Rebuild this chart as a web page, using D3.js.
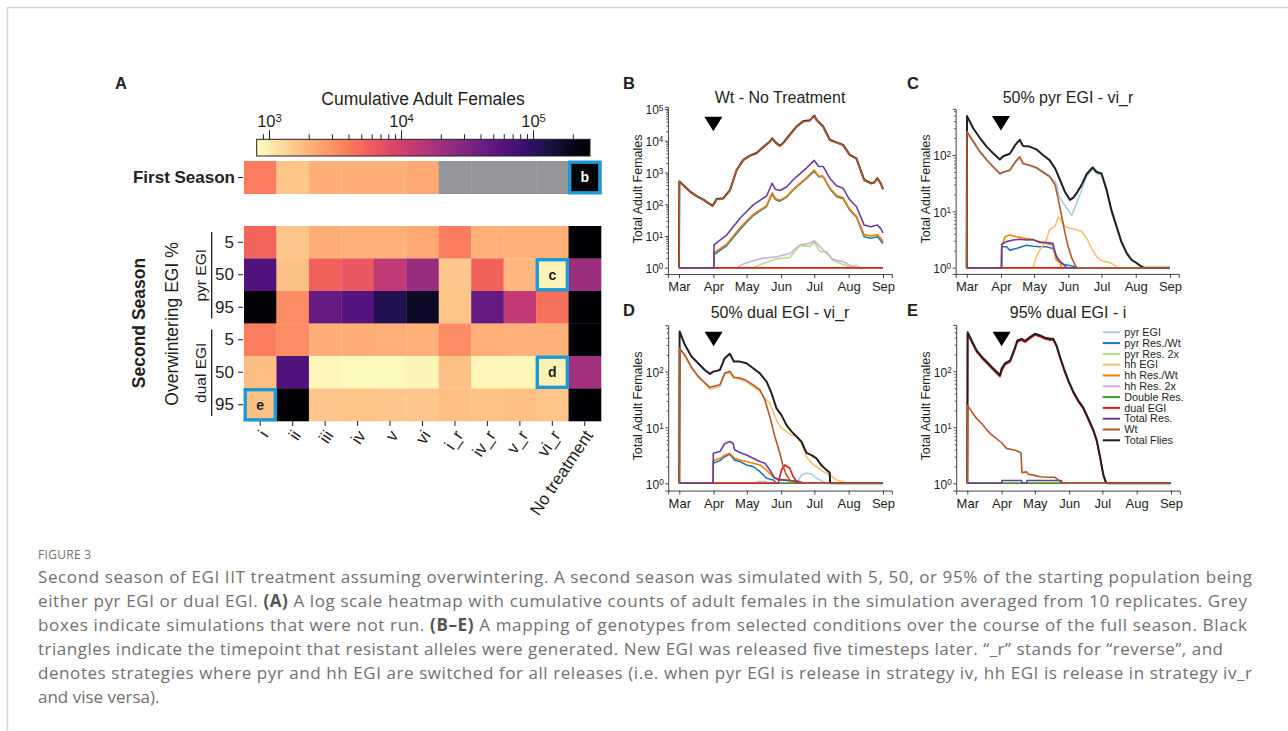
<!DOCTYPE html>
<html>
<head>
<meta charset="utf-8">
<script src="https://cdn.jsdelivr.net/npm/d3@7"></script>
<style>
  body { margin: 0; background: #fff; }
  svg { display: block; }
  text { font-family: "Liberation Sans", Arial, sans-serif; fill: #231f20; }
  .cap { font-family: "Open Sans", sans-serif; fill: #707070; }
</style>
</head>
<body>
<svg id="fig" width="1288" height="731"></svg>
<script>
// ---------- heatmap data (cumulative adult females, log scale) ----------
const strategies = ["i", "ii", "iii", "iv", "v", "vi", "i_r", "iv_r", "v_r", "vi_r", "No treatment"];
const rowLabels = ["5", "50", "95", "5", "50", "95"];
const rowGroups = ["pyr EGI", "dual EGI"];
// null = simulation not run (grey)
const firstSeason = [3900, 1650, 2150, 2150, 2150, 2300, null, null, null, null, 262000];
const secondSeason = [
  [5200, 1620, 2170, 2100, 2050, 2300, 3870, 2050, 2050, 2100, 262000],
  [63000, 1720, 5490, 6530, 13100, 22100, 1620, 5490, 1930, 906, 20900],
  [254000, 3260, 47100, 59400, 119000, 179000, 1650, 47100, 12400, 4610, 262000],
  [3870, 3260, 2170, 2170, 2100, 2050, 3260, 2100, 2050, 2050, 262000],
  [1820, 63000, 880, 855, 855, 906, 1720, 880, 880, 930, 19700],
  [1720, 262000, 1620, 1650, 1620, 1620, 1770, 1680, 1770, 1650, 262000]
];
// [row (-1 = first season), column, letter]
const boxedCells = [[-1, 10, "b"], [1, 9, "c"], [4, 9, "d"], [5, 0, "e"]];
const colorTicks = [1e3, 1e4, 1e5];
const colorMinor = [900, 2000, 3000, 4000, 5000, 6000, 7000, 8000, 9000,
  20000, 30000, 40000, 50000, 60000, 70000, 80000, 90000, 200000];

// ---------- time series: [day since Mar 1, adult females] ----------
const seriesNames = ["pyr EGI", "pyr Res./Wt", "pyr Res. 2x", "hh EGI", "hh Res./Wt", "hh Res. 2x",
  "Double Res.", "dual EGI", "Total Res.", "Wt", "Total Flies"];
const seriesColors = ["#a6cee3", "#1f78b4", "#b2df8a", "#fdbf6f", "#ff7f00", "#cab2d6",
  "#33a02c", "#e31a1c", "#6a3d9a", "#b15928", "#231f20"];
const drawOrder = ["pyr EGI", "pyr Res./Wt", "pyr Res. 2x", "hh EGI", "hh Res./Wt", "hh Res. 2x",
  "Double Res.", "dual EGI", "Total Flies", "Total Res.", "Wt"];
const monthTicks = ["Mar", "Apr", "May", "Jun", "Jul", "Aug", "Sep"];
const flatOne = [[0, 1], [184, 1]];

// B: Wt - No Treatment
const B_total = [[0,1],[0.3,520],[10,250],[16,180],[22,140],[28,100],[30.4,89],[34,145],[40,155],[46,280],[52,1200],[58,2500],[64,3400],[70,4100],[76,6300],[82,9500],[84,12000],[87,8900],[91,6900],[94,8500],[100,15500],[106,28000],[112,41000],[118,44000],[122,62000],[124,46000],[130,28000],[136,10700],[142,8900],[148,7400],[154,3600],[160,2800],[167,590],[173,460],[176,480],[179,660],[182,450],[184,300]];
const B_wt = [[0,1],[0.3,505],[10,243],[16,175],[22,136],[28,97],[30.4,86],[34,141],[40,150],[46,272],[52,1170],[58,2430],[64,3300],[70,3980],[76,6100],[82,9200],[84,11600],[87,8600],[91,6700],[94,8200],[100,15000],[106,27000],[112,39500],[118,42500],[122,60000],[124,44500],[130,27000],[136,10300],[142,8600],[148,7150],[154,3480],[160,2700],[167,570],[173,445],[176,465],[179,640],[182,435],[184,290]];
const B_totalRes = [[0,1],[31.5,1],[31.6,5.2],[37,7.4],[43,10.7],[49,19.5],[55,36],[61,59],[67,95],[73,132],[79,182],[84,457],[87,295],[91,270],[97,347],[103,590],[109,910],[115,1380],[122,2400],[126,1550],[130,1550],[136,660],[142,380],[148,316],[154,138],[160,85],[167,22],[173,19.5],[179,22],[182,17],[184,12.6]];
const B_hhRes = [[0,1],[31.5,1],[31.6,3.0],[37,4],[43,5.5],[49,10],[55,18],[61,30],[67,48],[73,66],[79,90],[84,230],[87,150],[91,135],[97,175],[103,295],[109,455],[115,690],[122,1200],[126,780],[130,770],[136,330],[142,190],[148,160],[154,70],[160,42],[167,11],[173,10],[179,11],[182,8.5],[184,6.5]];
const B_pyrRes = [[0,1],[31.5,1],[31.6,2.6],[37,3.5],[43,5],[49,9],[55,16],[61,27],[67,44],[73,62],[79,85],[84,210],[87,140],[91,125],[97,165],[103,280],[109,430],[115,650],[122,1100],[126,740],[130,740],[136,310],[142,175],[148,150],[154,65],[160,40],[167,9.5],[173,8.5],[179,9.5],[182,7],[184,5.8]];
const B_hhRes2 = [[0,1],[52,1],[58,1.3],[64,1.55],[76,2],[88,2.2],[100,2.8],[109,5.2],[118,5.9],[122,7.1],[130,3.6],[139,1.8],[148,1.55],[154,1.2],[160,1],[184,1]];
const B_pyrRes2 = [[0,1],[67,1],[76,1.35],[82,1.6],[88,1.9],[100,2.1],[109,5],[118,4.7],[122,6.5],[127,3.2],[133,3.2],[139,1.7],[148,1.25],[154,1.05],[160,1.2],[163,1],[184,1]];

// C: 50% pyr EGI - vi_r
const C_total = [[0,1],[0.3,490],[6,295],[12,200],[18,141],[24,107],[30,83],[33,95],[39,105],[44,151],[48,186],[51,145],[57,141],[63,126],[69,100],[75,81],[80,58],[84.5,36],[89,22],[93.5,16],[96.5,17.5],[99.5,21],[104,29.5],[108.6,46],[114,60],[117.6,50],[122,47],[126.7,24],[131,10.5],[135.7,5.4],[140,2.9],[145,1.8],[149,1.4],[154,1.2],[158,1.05],[160.5,1],[184,1]];
const C_wt = [[0,1],[0.3,260],[6,175],[12,115],[18,83],[24,62],[30,47],[33,50],[39,54],[44,76],[48,93],[51,71],[57,66],[63,60],[69,50],[75,42],[80,29.5],[83,16],[86,8.1],[89,4.1],[92,2.3],[95,1.5],[98,1.12],[100,1],[184,1]];
const C_pyrEgi = [[0,1],[0.3,245],[6,165],[12,110],[18,80],[24,60],[30,45],[33,48],[39,52],[44,73],[48,90],[51,69],[57,64],[63,58],[69,48],[75,40],[80,34],[81.5,29.5],[83,19.5],[87.5,13.8],[92,10.5],[95,8.5],[99.5,13.8],[104,24],[108.6,42],[114,56],[117.6,46],[122,45],[126.7,22],[131,9.5],[135.7,5],[140,2.7],[145,1.7],[149,1.35],[154,1.2],[158,1.05],[161,1],[184,1]];
const C_hhEgi = [[0,1],[60,1],[63,1.57],[66,2.05],[72,3.1],[75,4.7],[80,5.4],[83,8],[86,6.6],[89,5.4],[93.5,5],[99.5,4.7],[104,4.4],[108.6,3.3],[113,2.2],[117.6,1.57],[120.7,1.37],[125,1.28],[129.7,1.23],[134,1.1],[137,1],[184,1]];
const C_hhRes = [[0,1],[31.5,1],[31.7,2.35],[34.7,3.55],[39,3.8],[45,3.55],[54,3.3],[60,3.15],[66,2.9],[72,2.7],[78,2.5],[81,1.38],[84.5,1.22],[86,1],[184,1]];
const C_totalRes = [[0,1],[31.5,1],[31.7,2.6],[36,2.9],[42,3.1],[48,3.2],[54,3.1],[60,3.15],[66,2.8],[72,2.8],[78,2.7],[81,1.6],[84.5,1.3],[89,1.07],[90.5,1],[184,1]];
const C_pyrRes = [[0,1],[31.5,1],[31.7,2.35],[36,2.35],[39,2.05],[45,2.2],[54,2.5],[60,2.4],[66,2.35],[72,2.35],[78,2.2],[83,1.35],[87.5,1.15],[96.5,1.06],[99.5,1],[184,1]];

// D: 50% dual EGI - vi_r
const D_total = [[0,1],[0.3,525],[5,302],[11,186],[17,141],[23,107],[27.7,91],[30.7,100],[36.7,107],[41,174],[45.7,209],[49.3,151],[54.7,151],[60.7,141],[66.7,115],[72.8,93],[78.8,66],[83.3,41],[87.8,22],[92.3,16.6],[96.8,11],[101.3,8.5],[105.8,6.9],[110.3,5.6],[114.9,3.5],[119.4,3.2],[123.9,2.8],[128.4,2.1],[132.9,1.74],[135.9,1.55],[136.2,1],[184,1]];
const D_hhEgi = [[0,1],[0.3,251],[5,186],[11,115],[17,79],[23,62],[27.7,48],[30.7,50],[36.7,54],[41,93],[45.7,96],[49.3,76],[54.7,73],[60.7,66],[66.7,54],[72.8,44],[77.3,33],[81.8,27],[84.8,19],[87.8,13.6],[92.3,9.7],[96.8,8.4],[101.3,7.3],[105.8,7.1],[110.3,5.2],[114.9,3],[119.4,2.28],[123.9,1.99],[129.9,1.62],[135.9,1.41],[141.9,1.15],[147.9,1.07],[152.4,1],[184,1]];
const D_wt = [[0,1],[0.3,263],[5,199],[11,120],[17,83],[23,63],[27.7,52],[30.7,54],[36.7,58],[41,93],[45.7,101],[49.3,79],[54.7,77],[60.7,69],[66.7,58],[72.8,47],[77.3,31],[81.8,15.6],[86.3,6.9],[90.8,3.45],[93.8,1.99],[96.8,1.41],[99.8,1.15],[104.3,1.03],[107.3,1],[184,1]];
const D_totalRes = [[0,1],[30.6,1],[30.7,3.45],[36.7,3.7],[41,5.1],[45.7,5.6],[48.7,5.1],[50,3.95],[54.7,3.55],[60.7,3.2],[66.7,2.8],[72.8,2.45],[77.3,2.28],[81.8,1.73],[86.3,1.23],[90.8,1.15],[99.8,1.12],[108.8,1.07],[113.3,1],[184,1]];
const D_hhRes = [[0,1],[30.6,1],[30.7,2.55],[36.7,2.8],[41,3.2],[45.7,3.45],[50,2.8],[54.7,2.6],[60.7,2.45],[66.7,2.28],[72.8,2.13],[78.8,1.73],[84.8,1.28],[90.8,1.18],[96.8,1.15],[101.3,1.07],[104.3,1],[184,1]];
const D_pyrRes = [[0,1],[30.6,1],[30.7,2.28],[36.7,2.55],[41,3.0],[45.7,3.3],[50,2.6],[54.7,2.45],[60.7,2.13],[66.7,1.99],[72.8,1.62],[78.8,1.23],[84.8,1.15],[87.8,1],[184,1]];
const D_dualEgi = [[0,1],[89.3,1],[92.3,1.73],[95.3,2.13],[99.8,1.86],[102.8,1.32],[107.3,1],[184,1]];
const D_pyrEgi = [[0,1],[105.8,1],[110.3,1.41],[114.9,1.51],[119.4,1.47],[123.9,1.23],[129.9,1.07],[135.9,1],[184,1]];
const D_hhRes2 = [[0,1],[70,1],[70.5,1.08],[78,1.08],[78.5,1],[184,1]];

// E: 95% dual EGI - i
const E_total = [[0,1],[0.3,500],[3.9,355],[8.4,236],[13,182],[17.5,148],[22,120],[26.5,98],[29.5,85],[31,112],[34,138],[38.6,155],[42.2,236],[45.2,355],[49.1,380],[52.1,347],[56.6,407],[61.1,468],[65.7,437],[70.2,398],[74.7,380],[77.7,380],[80.7,288],[83.7,182],[87.3,112],[91.3,69],[95.8,43],[100.3,30],[104.8,22.5],[109.3,14.4],[113.9,8.9],[116.9,5.9],[119.9,3],[122.9,1.41],[125.3,1.03],[126.8,1],[184,1]];
const E_dualEgi = [[0,1],[0.3,470],[3.9,335],[8.4,222],[13,172],[17.5,140],[22,113],[26.5,92],[29.5,80],[31,100],[34,130],[38.6,146],[42.2,222],[45.2,335],[49.1,360],[52.1,328],[56.6,385],[61.1,445],[65.7,415],[70.2,378],[74.7,360],[77.7,360],[80.7,272],[83.7,172],[87.3,106],[91.3,65],[95.8,41],[100.3,28.5],[104.8,21.3],[109.3,13.6],[113.9,8.4],[116.9,5.6],[119.9,2.85],[122.9,1.38],[125.3,1.02],[126.8,1],[184,1]];
const E_wt = [[0,1],[0.3,24.7],[3.9,19],[8.4,14.4],[13,11.7],[17.5,9.1],[22,7.3],[26.5,6.3],[31,5.3],[35.5,4.2],[40,4.0],[44.6,3.8],[48.5,3.5],[49.4,1.55],[53.6,1.6],[55.1,1.45],[59.6,1.4],[65.7,1.31],[71.7,1.28],[79.2,1.28],[82.2,1.15],[85.2,1],[184,1]];
const E_totalRes = [[0,1],[31,1],[31.3,1.12],[49,1.12],[49.5,1],[53.5,1],[54,1.12],[85,1.12],[85.5,1],[184,1]];

const captionLines = [
  [["Second season of EGI IIT treatment assuming overwintering. A second season was simulated with 5, 50, or 95% of the starting population being", false]],
  [["either pyr EGI or dual EGI. ", false], ["(A)", true], [" A log scale heatmap with cumulative counts of adult females in the simulation averaged from 10 replicates. Grey", false]],
  [["boxes indicate simulations that were not run. ", false], ["(B\u2013E)", true], [" A mapping of genotypes from selected conditions over the course of the full season. Black", false]],
  [["triangles indicate the timepoint that resistant alleles were generated. New EGI was released five timesteps later. \u201c_r\u201d stands for \u201creverse\u201d, and", false]],
  [["denotes strategies where pyr and hh EGI are switched for all releases (i.e. when pyr EGI is release in strategy iv, hh EGI is release in strategy iv_r", false]],
  [["and vise versa).", false]]
];
const captionEnds = [1252, 1247, 1247, 1223, 1252, null];

// ---------- drawing ----------
const svg = d3.select("#fig");

// page frame
svg.append("line").attr("x1", 7).attr("x2", 1288).attr("y1", 7.5).attr("y2", 7.5)
  .attr("stroke", "#d4d4d4").attr("stroke-width", 1.5);
svg.append("line").attr("x1", 7.5).attr("x2", 7.5).attr("y1", 7).attr("y2", 731)
  .attr("stroke", "#d4d4d4").attr("stroke-width", 1.5);

function powerLabel(sel, exp) {
  sel.text(null);
  sel.append("tspan").text("10");
  sel.append("tspan").attr("dy", "-0.45em").attr("font-size", "0.68em").text(exp);
}

// ----- panel A -----
const color = d3.scaleSequentialLog(t => d3.interpolateMagma(1 - t)).domain([807, 270000]);
const hx = d3.scaleBand().domain(strategies).range([244, 601]);
const hy = d3.scaleBand().domain(d3.range(6)).range([226, 421]);
const fy = d3.scaleBand().domain(["First Season"]).range([161, 194]);

svg.append("text").attr("x", 115).attr("y", 89).attr("font-size", 16.5).attr("font-weight", "bold").text("A");

// colour bar
const cb = d3.scaleLog().domain([807, 270000]).range([256.7, 590]);
const grad = svg.append("defs").append("linearGradient").attr("id", "cbgrad");
d3.range(0, 1.0001, 0.05).forEach(t => {
  grad.append("stop").attr("offset", t).attr("stop-color", d3.interpolateMagma(1 - t));
});
svg.append("rect").attr("x", cb.range()[0]).attr("y", 139.3)
  .attr("width", cb.range()[1] - cb.range()[0]).attr("height", 16.7)
  .attr("fill", "url(#cbgrad)").attr("stroke", "#231f20").attr("stroke-width", 1);
const cbMajor = svg.append("g").attr("transform", "translate(0,139.3)")
  .call(d3.axisTop(cb).tickValues(colorTicks).tickSize(9).tickPadding(3));
cbMajor.select(".domain").remove();
cbMajor.selectAll("text").attr("font-size", 16.5).attr("fill", "#231f20")
  .each(function (d) { powerLabel(d3.select(this), Math.round(Math.log10(d))); });
const cbMin = svg.append("g").attr("transform", "translate(0,139.3)")
  .call(d3.axisTop(cb).tickValues(colorMinor).tickSize(5).tickFormat(""));
cbMin.select(".domain").remove();
svg.selectAll(".tick line").attr("stroke", "#231f20");
svg.append("text").attr("x", 423).attr("y", 105).attr("text-anchor", "middle")
  .attr("font-size", 17.5).text("Cumulative Adult Females");

// first season row
svg.append("g").selectAll("rect").data(firstSeason).join("rect")
  .attr("x", (d, i) => hx(strategies[i])).attr("y", fy("First Season"))
  .attr("width", hx.bandwidth() + 0.3).attr("height", fy.bandwidth())
  .attr("fill", d => d == null ? "#939598" : color(d));
const fAxis = svg.append("g").attr("transform", "translate(243,0)")
  .call(d3.axisLeft(fy).tickSize(5).tickPadding(3));
fAxis.select(".domain").remove();
fAxis.selectAll("text").attr("font-size", 17).attr("font-weight", "bold").attr("fill", "#231f20");

// second season grid
const cells = [];
secondSeason.forEach((row, r) => row.forEach((v, c) => cells.push({ r, c, v })));
svg.append("g").selectAll("rect").data(cells).join("rect")
  .attr("x", d => hx(strategies[d.c])).attr("y", d => hy(d.r))
  .attr("width", hx.bandwidth() + 0.3).attr("height", hy.bandwidth() + 0.3)
  .attr("fill", d => d.v == null ? "#939598" : color(d.v));

const yAx = svg.append("g").attr("transform", "translate(243,0)")
  .call(d3.axisLeft(hy).tickFormat(i => rowLabels[i]).tickSize(5).tickPadding(4));
yAx.select(".domain").remove();
yAx.selectAll("text").attr("font-size", 17).attr("fill", "#231f20");

const xAx = svg.append("g").attr("transform", "translate(0,421)")
  .call(d3.axisBottom(hx).tickSize(5).tickPadding(3));
xAx.select(".domain").remove();
xAx.selectAll("text").attr("font-size", 17).attr("fill", "#231f20")
  .attr("text-anchor", "end").attr("dy", "0.35em")
  .attr("transform", "translate(4,11) rotate(-56)")
  .attr("y", 0).attr("x", 0);
svg.selectAll(".tick line").attr("stroke", "#231f20");

// highlighted cells
boxedCells.forEach(([r, c, lab]) => {
  const x = hx(strategies[c]);
  const y = r < 0 ? fy("First Season") : hy(r);
  const h = r < 0 ? fy.bandwidth() : hy.bandwidth();
  svg.append("rect").attr("x", x + 1.2).attr("y", y + 1.2)
    .attr("width", hx.bandwidth() - 2.4).attr("height", h - 2.4)
    .attr("fill", "none").attr("stroke", "#1c9ad6").attr("stroke-width", 3.4);
  svg.append("text").attr("x", x + hx.bandwidth() / 2).attr("y", y + h / 2)
    .attr("dy", "0.35em").attr("text-anchor", "middle").attr("font-size", 14)
    .attr("font-weight", "bold").style("fill", lab === "b" ? "#fff" : "#231f20").text(lab);
});

// group brackets and titles
[[0, 2], [3, 5]].forEach(([a, b], gi) => {
  const y1 = hy(a) + 6, y2 = hy(b) + hy.bandwidth() - 5;
  svg.append("line").attr("x1", 211.7).attr("x2", 211.7).attr("y1", y1).attr("y2", y2)
    .attr("stroke", "#231f20").attr("stroke-width", 1.3);
  svg.append("text").attr("transform", `translate(206,${(y1 + y2) / 2}) rotate(-90)`)
    .attr("text-anchor", "middle").attr("font-size", 15.5).text(rowGroups[gi]);
});
svg.append("text").attr("transform", "translate(178,324) rotate(-90)")
  .attr("text-anchor", "middle").attr("font-size", 17.5).text("Overwintering EGI %");
svg.append("text").attr("transform", "translate(145,323) rotate(-90)")
  .attr("text-anchor", "middle").attr("font-size", 17.5).attr("font-weight", "bold").text("Second Season");

// ----- panels B-E -----
const t0 = new Date(2021, 2, 1);
const day = d => new Date(t0.getTime() + d * 864e5);
const months = d3.timeMonth.range(new Date(2021, 2, 1), new Date(2021, 8, 2));

const panelSeries = {
  B: { "pyr EGI": flatOne, "pyr Res./Wt": B_pyrRes, "pyr Res. 2x": B_pyrRes2, "hh EGI": flatOne,
       "hh Res./Wt": B_hhRes, "hh Res. 2x": B_hhRes2, "Double Res.": flatOne, "dual EGI": flatOne,
       "Total Res.": B_totalRes, "Wt": B_wt, "Total Flies": B_total },
  C: { "pyr EGI": C_pyrEgi, "pyr Res./Wt": C_pyrRes, "pyr Res. 2x": flatOne, "hh EGI": C_hhEgi,
       "hh Res./Wt": C_hhRes, "hh Res. 2x": flatOne, "Double Res.": flatOne, "dual EGI": flatOne,
       "Total Res.": C_totalRes, "Wt": C_wt, "Total Flies": C_total },
  D: { "pyr EGI": D_pyrEgi, "pyr Res./Wt": D_pyrRes, "pyr Res. 2x": flatOne, "hh EGI": D_hhEgi,
       "hh Res./Wt": D_hhRes, "hh Res. 2x": D_hhRes2, "Double Res.": flatOne, "dual EGI": D_dualEgi,
       "Total Res.": D_totalRes, "Wt": D_wt, "Total Flies": D_total },
  E: { "pyr EGI": flatOne, "pyr Res./Wt": flatOne, "pyr Res. 2x": flatOne, "hh EGI": flatOne,
       "hh Res./Wt": flatOne, "hh Res. 2x": flatOne, "Double Res.": flatOne, "dual EGI": E_dualEgi,
       "Total Res.": E_totalRes, "Wt": E_wt, "Total Flies": E_total }
};

const panels = [
  { id: "B", title: "Wt - No Treatment", mar: 679, sep: 883, y0: 267.7, dec: 31.74, lo: -0.2, hi: 5.07, maxExp: 5,
    tri: 116.7, letter: [623, 89], titleXY: [780, 103], ylab: [641.5, 189] },
  { id: "C", title: "50% pyr EGI - vi_r", mar: 966.7, sep: 1170, y0: 267.7, dec: 56.35, lo: -0.11, hi: 2.82, maxExp: 2,
    tri: 116, letter: [907, 89], titleXY: [1068, 103], ylab: [929.5, 189] },
  { id: "D", title: "50% dual EGI - vi_r", mar: 679.3, sep: 883, y0: 483.3, dec: 55.85, lo: -0.13, hi: 2.83, maxExp: 2,
    tri: 331.7, letter: [623, 316], titleXY: [780, 318], ylab: [641.5, 406] },
  { id: "E", title: "95% dual EGI - i", mar: 967.3, sep: 1171, y0: 483.3, dec: 56, lo: -0.13, hi: 2.83, maxExp: 2,
    tri: 331.7, letter: [907, 316], titleXY: [1068, 318], ylab: [929.5, 406] }
];

panels.forEach(p => {
  const g = svg.append("g");
  const ppd = (p.sep - p.mar) / 184;
  const x = d3.scaleTime().domain([day(-10), day(192)]).range([p.mar - 10 * ppd, p.sep + 8 * ppd]);
  const y = d3.scaleLog().domain([10 ** p.lo, 10 ** p.hi]).range([p.y0 - p.lo * p.dec, p.y0 - p.hi * p.dec]);

  // axes
  const xa = g.append("g").attr("transform", `translate(0,${y.range()[0]})`)
    .call(d3.axisBottom(x).tickValues(months).tickFormat((d, i) => monthTicks[i]).tickSize(4).tickPadding(4));
  xa.selectAll("text").attr("font-size", 13).attr("fill", "#231f20");
  const majors = d3.range(0, p.maxExp + 1).map(e => 10 ** e);
  const minors = [];
  for (let e = 0; e <= p.maxExp; e++) for (let m = 2; m <= 9; m++) if (m * 10 ** e < 10 ** p.hi) minors.push(m * 10 ** e);
  const ya = g.append("g").attr("transform", `translate(${x.range()[0]},0)`)
    .call(d3.axisLeft(y).tickValues(majors).tickSize(3).tickPadding(1.5));
  ya.selectAll("text").attr("font-size", 12).attr("fill", "#231f20").attr("dy", "0.4em")
    .each(function (d) { powerLabel(d3.select(this), Math.round(Math.log10(d))); });
  const ym = g.append("g").attr("transform", `translate(${x.range()[0]},0)`)
    .call(d3.axisLeft(y).tickValues(minors).tickSize(1.5).tickFormat(""));
  ym.select(".domain").remove();
  g.selectAll(".domain, .tick line").attr("stroke", "#444");

  g.append("text").attr("transform", `translate(${p.ylab[0]},${p.ylab[1]}) rotate(-90)`)
    .attr("text-anchor", "middle").attr("font-size", 12.5).text("Total Adult Females");
  g.append("text").attr("x", p.titleXY[0]).attr("y", p.titleXY[1]).attr("text-anchor", "middle")
    .attr("font-size", 16).text(p.title);
  g.append("text").attr("x", p.letter[0]).attr("y", p.letter[1]).attr("font-size", 16.5)
    .attr("font-weight", "bold").text(p.id);

  // lines
  const line = d3.line().x(d => x(day(d[0]))).y(d => y(d[1]));
  const sData = panelSeries[p.id];
  drawOrder.forEach(name => {
    const k = seriesNames.indexOf(name);
    g.append("path").datum(sData[name]).attr("d", line).attr("fill", "none")
      .attr("stroke", seriesColors[k]).attr("stroke-width", name === "Total Flies" ? 2 : 1.6)
      .attr("stroke-linejoin", "round");
  });

  // resistance marker
  const tx = x(day(31));
  g.append("path").attr("d", `M${tx - 9},${p.tri}L${tx + 9},${p.tri}L${tx},${p.tri + 14.5}Z`).attr("fill", "#000");
});

// legend (panel E)
const lg = svg.append("g");
seriesNames.forEach((name, i) => {
  const yy = 332.3 + i * 10.8;
  lg.append("line").attr("x1", 1102.7).attr("x2", 1120).attr("y1", yy).attr("y2", yy)
    .attr("stroke", seriesColors[i]).attr("stroke-width", 2);
  lg.append("text").attr("x", 1124.3).attr("y", yy).attr("dy", "0.35em")
    .attr("font-size", 10.8).text(name);
});

// ----- caption -----
svg.append("text").attr("class", "cap").attr("x", 38).attr("y", 559)
  .attr("font-size", 12).attr("letter-spacing", 0.3).text("FIGURE 3");
captionLines.forEach((segs, i) => {
  const t = svg.append("text").attr("class", "cap").attr("x", 38).attr("y", 583 + i * 24)
    .attr("font-size", 17);
  segs.forEach(([s, b]) => {
    const sp = t.append("tspan").text(s);
    if (b) sp.attr("font-weight", "bold").style("fill", "#555");
  });
  if (captionEnds[i]) t.attr("textLength", captionEnds[i] - 38).attr("lengthAdjust", "spacing");
});
</script>
</body>
</html>
